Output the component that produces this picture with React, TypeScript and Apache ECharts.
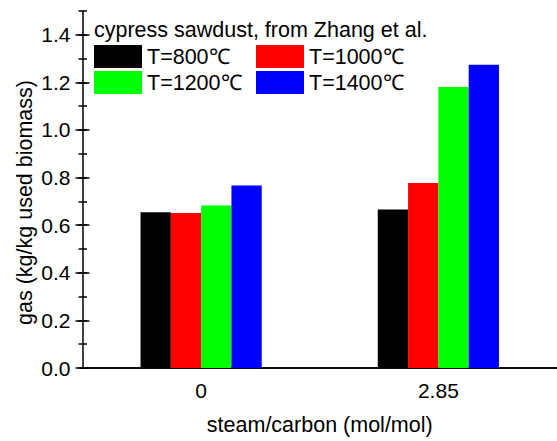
import React, { useEffect, useRef } from "react";
import * as echarts from "echarts";

const categories = ["0", "2.85"];
const seriesNames = ["T=800℃", "T=1000℃", "T=1200℃", "T=1400℃"];
const seriesColors = ["#000000", "#ff0000", "#00ff00", "#0000ff"];
const t800 = [0.654, 0.666];
const t1000 = [0.651, 0.777];
const t1200 = [0.683, 1.18];
const t1400 = [0.767, 1.274];
const majorTicks = [0, 0.2, 0.4, 0.6, 0.8, 1.0, 1.2, 1.4];

const FONT = "'Liberation Sans', Arial, Helvetica, sans-serif";

export default function App() {
  const ref = useRef<HTMLDivElement>(null);

  useEffect(() => {
    if (!ref.current) return;
    const chart = echarts.init(ref.current, undefined, { renderer: "svg" });
    const values = [t800, t1000, t1200, t1400];
    const lineStyle = { color: "#000", width: 1.5 };

    const yBase = {
      type: "value" as const,
      position: "left" as const,
      min: 0,
      max: 1.5,
      splitLine: { show: false },
    };

    chart.setOption({
      animation: false,
      backgroundColor: "#ffffff",
      textStyle: { fontFamily: FONT },
      grid: { left: 82.5, top: 10.9, width: 483, height: 361.8, containLabel: false },
      xAxis: [
        {
          type: "category",
          data: categories,
          position: "bottom",
          axisLine: { lineStyle },
          axisTick: { alignWithLabel: true, length: 6, lineStyle },
          axisLabel: { color: "#000", fontSize: 21, fontFamily: FONT, margin: 12 },
          name: "steam/carbon (mol/mol)",
          nameLocation: "middle",
          nameGap: 46,
          nameTextStyle: { color: "#000", fontSize: 21.5, fontFamily: FONT },
        },
        {
          type: "category",
          data: categories,
          position: "top",
          axisLine: { lineStyle },
          axisTick: { alignWithLabel: true, inside: true, length: 3, lineStyle },
          axisLabel: { show: false },
        },
      ],
      yAxis: [
        {
          ...yBase,
          interval: 0.2,
          axisLine: { show: true, lineStyle },
          axisTick: { show: true, length: 7, lineStyle, customValues: majorTicks },
          axisLabel: {
            color: "#000",
            fontSize: 21,
            fontFamily: FONT,
            margin: 12,
            customValues: majorTicks,
            formatter: (v: number) => (v > 1.45 ? "" : v.toFixed(1)),
          },
        },
        {
          ...yBase,
          interval: 0.2,
          axisLine: { show: false },
          axisTick: { show: true, inside: true, length: 7, lineStyle, customValues: majorTicks },
          axisLabel: { show: false },
        },
        {
          ...yBase,
          interval: 0.1,
          axisLine: { show: false },
          axisTick: { show: true, length: 4, lineStyle },
          axisLabel: { show: false },
        },
        {
          ...yBase,
          interval: 0.1,
          axisLine: { show: false },
          axisTick: { show: true, inside: true, length: 4.5, lineStyle },
          axisLabel: { show: false },
        },
      ],
      legend: [
        {
          data: [seriesNames[0], seriesNames[2]],
          orient: "vertical",
          left: 94,
          top: 45,
          itemWidth: 48,
          itemHeight: 23,
          itemGap: 3,
          padding: 0,
          icon: "rect",
          textStyle: { color: "#000", fontSize: 21.5, fontFamily: FONT, lineHeight: 23 },
        },
        {
          data: [seriesNames[1], seriesNames[3]],
          orient: "vertical",
          left: 256,
          top: 45,
          itemWidth: 48,
          itemHeight: 23,
          itemGap: 3,
          padding: 0,
          icon: "rect",
          textStyle: { color: "#000", fontSize: 21.5, fontFamily: FONT, lineHeight: 23 },
        },
      ],
      graphic: [
        {
          type: "text",
          left: 94,
          top: 19,
          style: {
            text: "cypress sawdust, from Zhang et al.",
            fill: "#000",
            font: `21.5px ${FONT}`,
          },
        },
        {
          type: "text",
          x: 25,
          y: 202.5,
          rotation: Math.PI / 2,
          style: {
            text: "gas (kg/kg used biomass)",
            fill: "#000",
            font: `21.5px ${FONT}`,
            align: "center",
            verticalAlign: "middle",
          },
        },
      ],
      series: values.map((d, i) => ({
        name: seriesNames[i],
        type: "bar",
        data: d,
        xAxisIndex: 0,
        yAxisIndex: 0,
        barWidth: 30.3,
        barGap: "0%",
        itemStyle: { color: seriesColors[i] },
      })),
    });

    return () => chart.dispose();
  }, []);

  return (
    <div
      ref={ref}
      style={{ position: "fixed", left: 0, top: 0, width: 557, height: 441, background: "#fff" }}
    />
  );
}
